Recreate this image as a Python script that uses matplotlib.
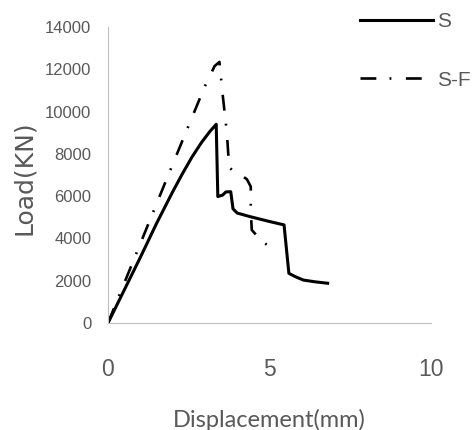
import matplotlib
matplotlib.use("Agg")
import matplotlib.pyplot as plt
from matplotlib import font_manager

# load-displacement readings (mm, kN) taken off the curves
s_disp = [0, 0.5, 1.0, 1.5, 2.0, 2.3, 2.6, 2.9, 3.15, 3.35, 3.40, 3.55, 3.65, 3.80,
          3.87, 4.0, 4.4, 5.0, 5.45, 5.6, 5.8, 6.05, 6.4, 6.8]
s_load = [0, 1550, 3100, 4700, 6200, 7050, 7850, 8550, 9050, 9400, 5980, 6050, 6200, 6210,
          5400, 5200, 5030, 4800, 4640, 2350, 2190, 2030, 1950, 1880]

sf_disp = [0, 0.6, 1.2, 1.8, 2.5, 3.0, 3.3, 3.45, 3.55, 3.68, 3.75, 3.9, 4.11, 4.3, 4.42,
           4.42, 4.45, 4.78, 5.25]
sf_load = [0, 2250, 4500, 6750, 9350, 11200, 12150, 12350, 10800, 9000, 7370, 7150, 7000, 6800, 6450,
           5400, 4400, 3850, 3350]

x_ticks = [0, 5, 10]
y_ticks = [0, 2000, 4000, 6000, 8000, 10000, 12000, 14000]

names = {f.name for f in font_manager.fontManager.ttflist}
narrow = 'Liberation Sans Narrow' if 'Liberation Sans Narrow' in names else 'Liberation Sans'
txt_col = '#595959'

fig = plt.figure(figsize=(4.75, 4.3), dpi=100)
ax = fig.add_axes([108 / 475, 107 / 430, 323 / 475, 296 / 430])

ax.plot(s_disp, s_load, color='black', lw=2.2, label='S')
ax.plot(sf_disp, sf_load, color='black', lw=1.9, linestyle=(0, (6, 5, 0.7, 5.5)), label='S-F')

ax.set_xlim(0, 10)
ax.set_ylim(0, 14000)
ax.set_xticks(x_ticks)
ax.set_yticks(y_ticks)
ax.set_xticklabels([str(v) for v in x_ticks], fontsize=16.5, family=narrow, color=txt_col)
ax.set_yticklabels([str(v) for v in y_ticks], fontsize=12, family=narrow, color=txt_col)
ax.tick_params(axis='x', length=0, pad=25)
ax.tick_params(axis='y', length=0, pad=12)

for side in ['top', 'right']:
    ax.spines[side].set_visible(False)
for side in ['left', 'bottom']:
    ax.spines[side].set_color('#bfbfbf')
    ax.spines[side].set_linewidth(0.8)

ax.set_xlabel('Displacement(mm)', fontsize=17, family='Lato', color=txt_col)
ax.xaxis.set_label_coords(0.5, -0.29)
ax.set_ylabel('Load(KN)', fontsize=18, family='DejaVu Sans', color=txt_col)
ax.yaxis.set_label_coords(-0.223, 0.49)

ax.legend(loc='upper left', bbox_to_anchor=(360 / 475, 1 - 12 / 430),
          bbox_transform=fig.transFigure, frameon=False, borderaxespad=0, borderpad=0,
          handlelength=3.5, handletextpad=0.2, labelspacing=1.9,
          prop={'family': narrow, 'size': 15}, labelcolor=txt_col)

fig.savefig('out.png', dpi=100)
